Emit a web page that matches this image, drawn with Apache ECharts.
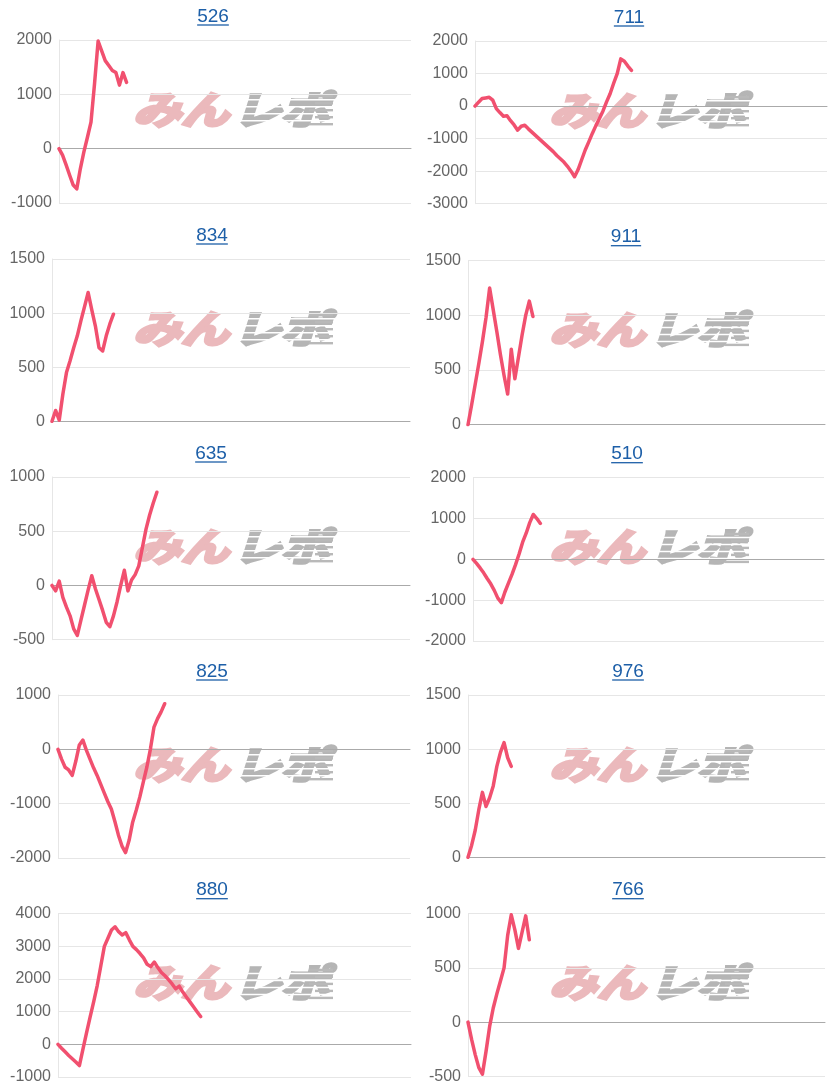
<!DOCTYPE html>
<html><head><meta charset="utf-8">
<script src="https://cdn.jsdelivr.net/npm/echarts@6/dist/echarts.min.js"></script>
<style>html,body{margin:0;padding:0;background:#fff}#c{width:832px;height:1090px}</style>
</head><body><div id="c"></div>
<script>
// ---- data ----
const titles = ['526','711','834','911','635','510','825','976','880','766'];
const s526 = [0,-120,-300,-490,-670,-740,-370,-60,210,490,1200,1980,1800,1620,1530,1440,1400,1170,1400,1220];
const s711 = [0,120,230,250,270,180,-80,-200,-310,-300,-450,-580,-740,-620,-590,-700,-800,-900,-1000,-1100,-1200,-1300,-1400,-1520,-1620,-1720,-1850,-2000,-2170,-1950,-1650,-1350,-1100,-840,-600,-380,-150,130,380,700,1000,1450,1380,1230,1100];
const s834 = [0,100,10,250,450,560,680,790,930,1060,1190,1030,880,680,650,790,900,990];
const s911 = [0,180,370,560,760,980,1250,1050,850,640,450,280,690,420,620,820,1000,1130,990];
const s635 = [0,-50,40,-110,-200,-280,-400,-460,-320,-180,-40,90,-30,-130,-230,-340,-380,-280,-150,0,140,-50,50,100,180,350,520,650,760,860];
const s510 = [0,-100,-210,-330,-470,-600,-760,-950,-1060,-800,-580,-370,-130,130,420,640,900,1100,1000,880];
const s825 = [0,-180,-330,-380,-480,-220,80,170,-20,-180,-340,-480,-640,-800,-960,-1100,-1330,-1580,-1780,-1900,-1675,-1340,-1120,-880,-600,-325,10,410,565,690,840];
const s976 = [0,110,250,440,600,470,550,660,840,970,1060,920,840];
const s880 = [0,-120,-230,-340,-440,-540,-650,-150,350,830,1300,1800,2400,3000,3250,3500,3600,3450,3350,3420,3200,3000,2900,2780,2650,2450,2380,2520,2350,2200,2100,1980,1850,1700,1780,1600,1450,1300,1150,1000,850];
const s766 = [0,-160,-300,-420,-480,-270,-40,130,260,380,500,800,990,850,680,830,980,760];
const yMin = [-1000,-3000,0,0,-500,-2000,-2000,0,-1000,-500];
const yMax = [2000,2000,1500,1500,1000,2000,1000,1500,4000,1000];
const yStep = [1000,1000,500,500,500,1000,1000,500,1000,500];
const slots = Array.from({length:100},(_, i)=> String(i+1));
const seriesData = [s526,s711,s834,s911,s635,s510,s825,s976,s880,s766];

// ---- layout (pixels) ----
const plotLeft  = [59,475,52,468,52,473,58,468,58,468];
const plotRight = [411,827,410,825,410,824,410,825,411,825];
const plotTop   = [40,41,259,260.7,477,477.7,695,695,913.7,913.7];
const plotBot   = [203,203.7,421.3,424.7,639.7,641,858,857.3,1077,1076.3];
const titleX    = [213,629,212,626,211,627,212,628,212,628];

const LINE = '#f1506f', TITLE = '#1d5fa8', LABEL = '#666', GRID = '#e6e6e6', ZERO = '#aaaaaa';
const TFONT = '19px "Liberation Sans"';

const cv = document.createElement('canvas').getContext('2d');
cv.font = TFONT;

const grid = [], xAxis = [], yAxis = [], series = [], graphic = [];
titles.forEach((t, i) => {
  grid.push({left: plotLeft[i], top: plotTop[i], width: plotRight[i]-plotLeft[i], height: plotBot[i]-plotTop[i]});
  xAxis.push({type:'category', gridIndex:i, data: slots, boundaryGap:false,
    axisLine:{show:true, onZero:true, lineStyle:{color:ZERO, width:1}},
    axisTick:{show:false}, axisLabel:{show:false}, splitLine:{show:false}});
  yAxis.push({type:'value', gridIndex:i, min:yMin[i], max:yMax[i], interval:yStep[i],
    axisLine:{show:true, lineStyle:{color:GRID}}, axisTick:{show:false},
    axisLabel:{color:LABEL, fontSize:16, fontFamily:'Liberation Sans', margin:7, formatter: v => String(v)},
    splitLine:{lineStyle:{color:GRID}}});
  series.push({type:'line', xAxisIndex:i, yAxisIndex:i, data: seriesData[i], symbol:'none',
    lineStyle:{color:LINE, width:3.5, join:'round', cap:'round'}, z:10, silent:true});
  const capTop = plotTop[i] - 30;
  const w = cv.measureText(t).width;
  graphic.push({type:'text', x:titleX[i], y:capTop - 3, silent:true,
    style:{text:t, font:TFONT, fill:TITLE, textAlign:'center', textVerticalAlign:'top'}});
  graphic.push({type:'line', shape:{x1:titleX[i]-w/2, y1:capTop+15, x2:titleX[i]+w/2, y2:capTop+15},
    style:{stroke:TITLE, lineWidth:1.3}, silent:true});
  // watermark
  const ox = (i % 2) * 416 + 133, oy = plotTop[i] + 50;
  const stripes = [];
  [9, 16, 23, 30].forEach(dy => stripes.push({type:'rect', shape:{x:100, y:dy, width:104, height:1.6}, style:{fill:'#ffffff'}}));
  [5, 12, 19, 26, 33].forEach((dy, k) => stripes.push({type:'rect', shape:{x:176 + (k%2)*6, y:dy, width:24 - (k%2)*6, height:2.4}, style:{fill:'#b9b9b9'}}));
  graphic.push({type:'group', x:ox, y:oy, z:-1, zlevel:0, silent:true, children:[
    {type:'text', x:0, y:0, z:-1, scaleY:0.8, style:{text:'みん', font:'italic bold 48px "Noto Sans CJK JP"', fill:'#ebb9bc', stroke:'#ebb9bc', lineWidth:4, textVerticalAlign:'top'}},
    {type:'text', x:100, y:0, z:-1, scaleY:0.8, style:{text:'レポ', font:'italic bold 48px "Noto Sans CJK JP"', fill:'#b5b5b5', stroke:'#b5b5b5', lineWidth:4, textVerticalAlign:'top'}},
    ...stripes.map(s => Object.assign(s, {z:-1}))
  ]});
});

const chart = echarts.init(document.getElementById('c'), null, {renderer:'canvas'});
chart.setOption({animation:false, backgroundColor:'#fff', grid, xAxis, yAxis, series, graphic});
</script></body></html>
